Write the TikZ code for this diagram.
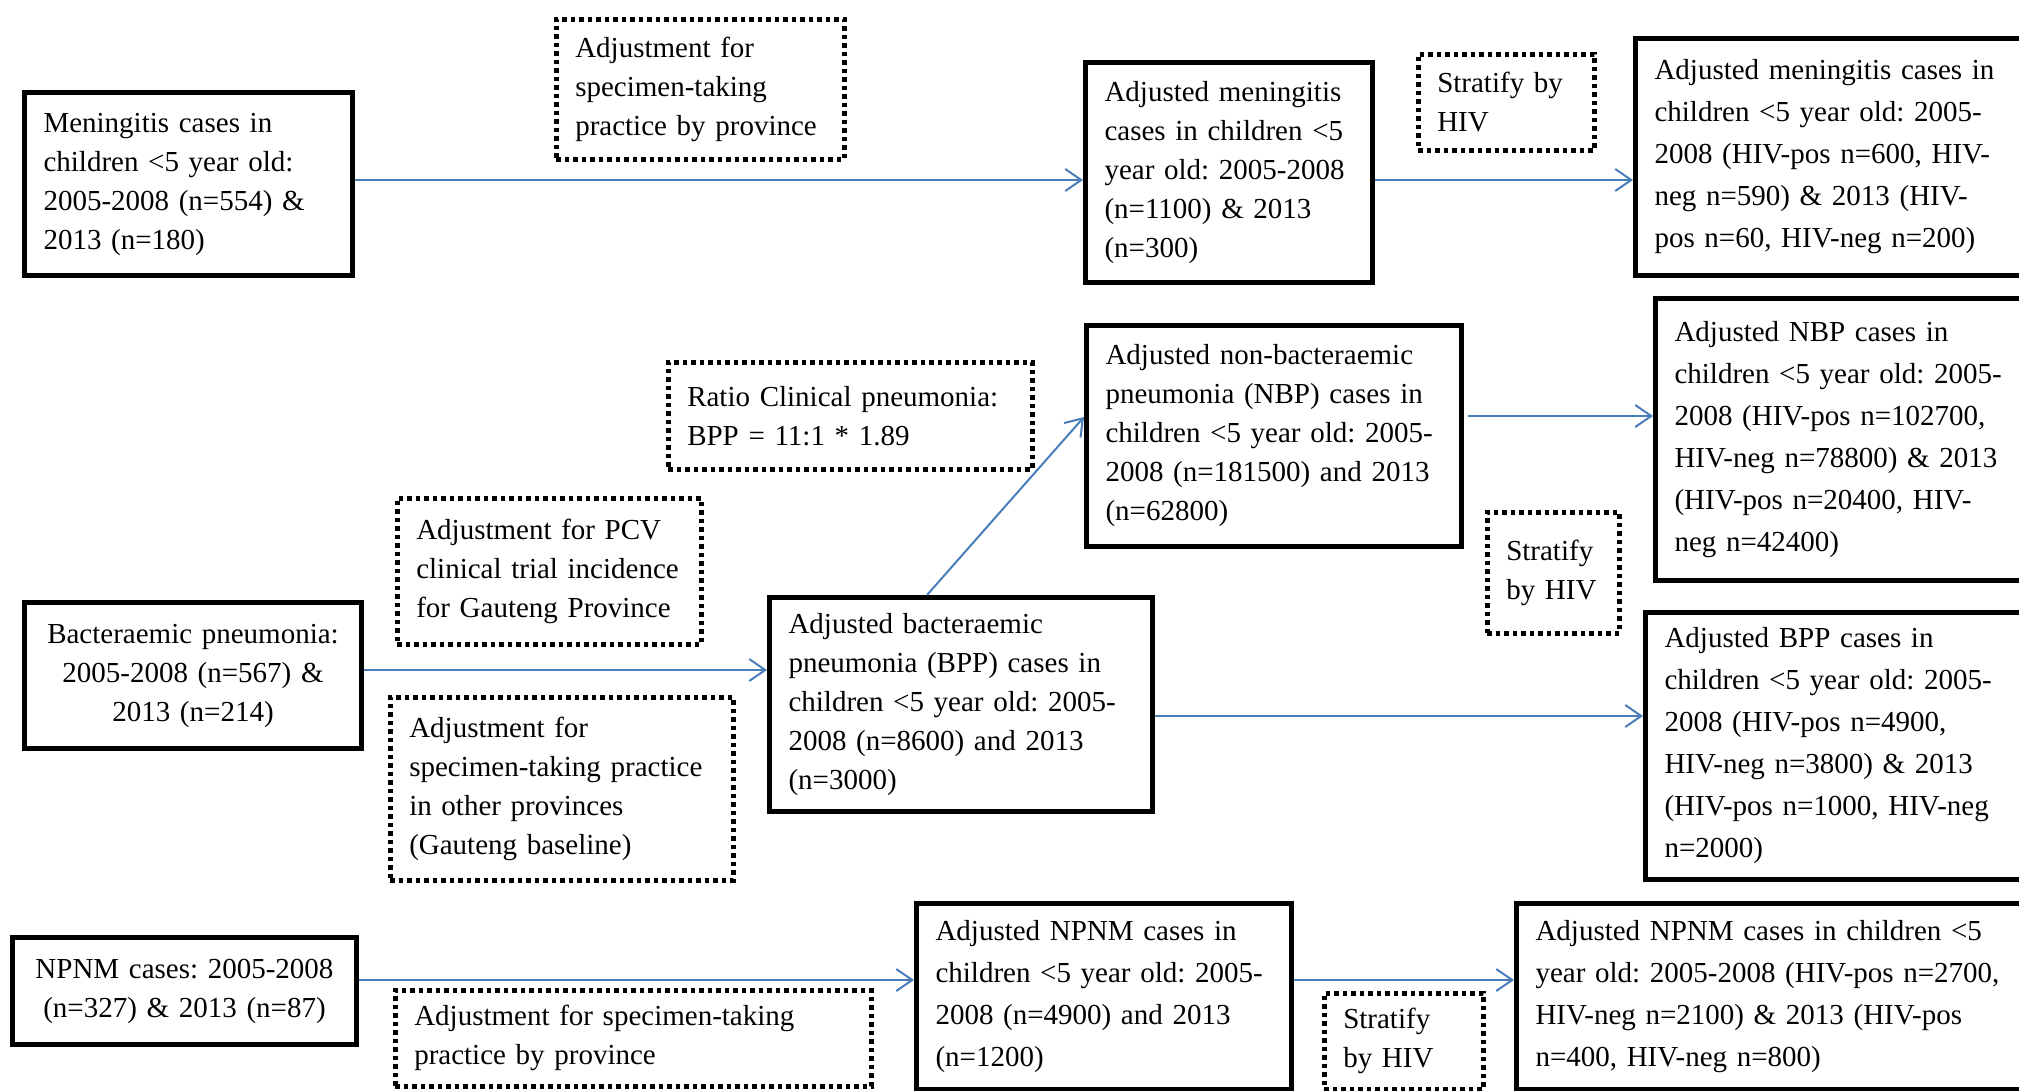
\documentclass[tikz,border=0pt]{standalone}
\usepackage{fontspec}
\setmainfont{Liberation Serif}
\usepackage{xcolor}
\usetikzlibrary{arrows.meta,positioning,calc}
\definecolor{flowblue}{RGB}{74,126,187}
\frenchspacing

\begin{document}
\begin{tikzpicture}[x=1pt, y=-1pt, >={Straight Barb[length=16pt,width=22pt]},
  every node/.style={font=\fontsize{29}{39}\selectfont, anchor=north west, inner xsep=19pt, inner ysep=0pt},
  box/.style={draw, line width=5pt, align=left},
  dotbox/.style={draw, line width=4.5pt, dash pattern=on 4.5pt off 4pt, align=left},
  wide/.style={font=\fontsize{29}{42}\selectfont},
  flow/.style={->, flowblue, line width=2pt}]
  \useasboundingbox (0,0) rectangle (2019,1090);
  \coordinate (rowa) at (0,180);
  \coordinate (rowb) at (0,670);
  \coordinate (rowc) at (0,416);
  \coordinate (rowd) at (0,716);
  \coordinate (rowe) at (0,980);

  \node[box, text width=290pt, minimum height=183pt] (men) at (22,90) {Meningitis cases in\\children <5 year old:\\2005-2008 (n=554) \&\\2013 (n=180)};
  \node[dotbox, text width=250pt, minimum height=140pt] (adjmen) at (554,17) {Adjustment for\\specimen-taking\\practice by province};
  \node[box, text width=249pt, minimum height=220pt] (menadj) at (1083,60) {Adjusted meningitis\\cases in children <5\\year old: 2005-2008\\(n=1100) \& 2013\\(n=300)};
  \node[dotbox, text width=138pt, minimum height=96pt] (hivmen) at (1416,52) {Stratify by\\HIV};
  \node[box, wide, text width=407pt, minimum height=237pt] (menhiv) at (1633,36) {Adjusted meningitis cases in\\children <5 year old: 2005-\\2008 (HIV-pos n=600, HIV-\\neg n=590) \& 2013 (HIV-\\pos n=60, HIV-neg n=200)};

  \node[dotbox, text width=326pt, minimum height=107pt] (ratio) at (666,360) {Ratio Clinical pneumonia:\\BPP = 11:1 * 1.89};
  \node[dotbox, text width=266pt, minimum height=146pt] (pcv) at (395,496) {Adjustment for PCV\\clinical trial incidence\\for Gauteng Province};
  \node[box, align=center, text width=299pt, minimum height=146pt] (bp) at (22,600) {Bacteraemic pneumonia:\\2005-2008 (n=567) \&\\2013 (n=214)};
  \node[dotbox, text width=305pt, minimum height=183pt] (specgp) at (388,695) {Adjustment for\\specimen-taking practice\\in other provinces\\(Gauteng baseline)};
  \node[box, text width=345pt, minimum height=214pt] (bpp) at (767,595) {Adjusted bacteraemic\\pneumonia (BPP) cases in\\children <5 year old: 2005-\\2008 (n=8600) and 2013\\(n=3000)};
  \node[box, text width=337pt, minimum height=221pt] (nbp) at (1084,323) {Adjusted non-bacteraemic\\pneumonia (NBP) cases in\\children <5 year old: 2005-\\2008 (n=181500) and 2013\\(n=62800)};
  \node[dotbox, text width=94pt, minimum height=121pt] (hivpn) at (1485,510) {Stratify\\by HIV};
  \node[box, wide, text width=377pt, minimum height=282pt] (nbphiv) at (1653,296) {Adjusted NBP cases in\\children <5 year old: 2005-\\2008 (HIV-pos n=102700,\\HIV-neg n=78800) \& 2013\\(HIV-pos n=20400, HIV-\\neg n=42400)};
  \node[box, wide, text width=387pt, minimum height=267pt] (bpphiv) at (1643,610) {Adjusted BPP cases in\\children <5 year old: 2005-\\2008 (HIV-pos n=4900,\\HIV-neg n=3800) \& 2013\\(HIV-pos n=1000, HIV-neg\\n=2000)};

  \node[box, align=center, text width=306pt, minimum height=107pt] (npnm) at (10,935) {NPNM cases: 2005-2008\\(n=327) \& 2013 (n=87)};
  \node[dotbox, text width=438pt, minimum height=96pt] (specnp) at (393,988) {Adjustment for specimen-taking\\practice by province};
  \node[box, wide, text width=337pt, minimum height=186pt] (npnmadj) at (914,901) {Adjusted NPNM cases in\\children <5 year old: 2005-\\2008 (n=4900) and 2013\\(n=1200)};
  \node[dotbox, text width=121pt, minimum height=96pt] (hivnp) at (1322,991) {Stratify\\by HIV};
  \node[box, wide, text width=517pt, minimum height=186pt] (npnmhiv) at (1514,901) {Adjusted NPNM cases in children <5\\year old: 2005-2008 (HIV-pos n=2700,\\HIV-neg n=2100) \& 2013 (HIV-pos\\n=400, HIV-neg n=800)};

  \draw[flow] (men.east |- rowa) -- (menadj.west |- rowa);
  \draw[flow] (menadj.east |- rowa) -- (menhiv.west |- rowa);
  \draw[flow] (bp.east |- rowb) -- (bpp.west |- rowb);
  \draw[flow] ([xshift=-34pt]bpp.north) -- ([yshift=19pt]nbp.west);
  \draw[flow] ([xshift=4pt]nbp.east |- rowc) -- (nbphiv.west |- rowc);
  \draw[flow] (bpp.east |- rowd) -- (bpphiv.west |- rowd);
  \draw[flow] (npnm.east |- rowe) -- (npnmadj.west |- rowe);
  \draw[flow] (npnmadj.east |- rowe) -- (npnmhiv.west |- rowe);
\end{tikzpicture}
\end{document}
